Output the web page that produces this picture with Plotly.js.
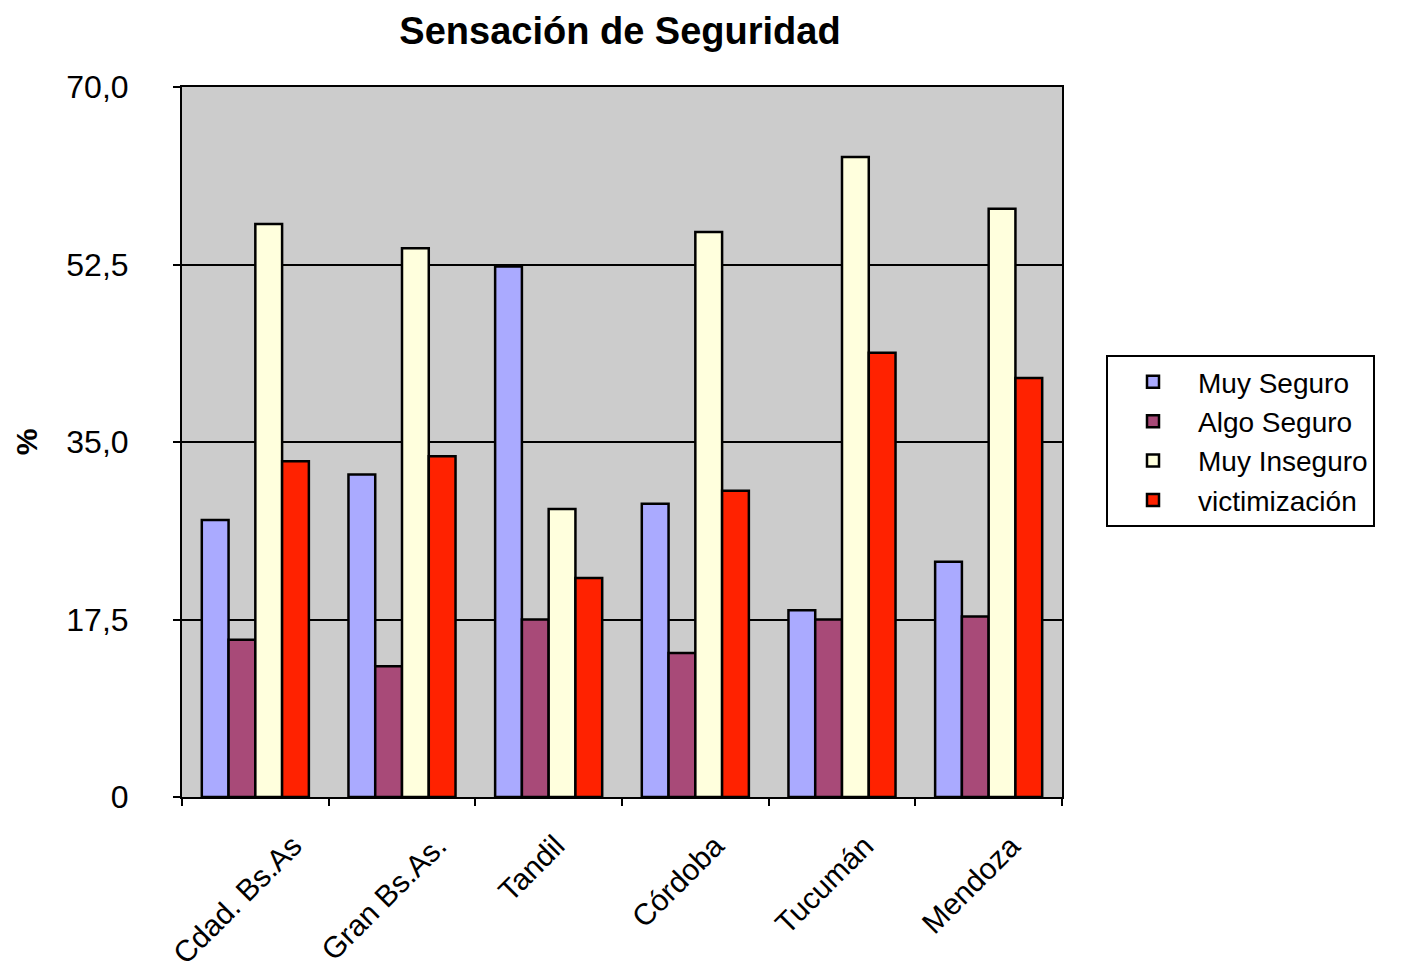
<!DOCTYPE html>
<html>
<head>
<meta charset="utf-8">
<script src="https://cdn.plot.ly/plotly-3.0.1.min.js"></script>
<style>html,body{margin:0;padding:0;background:#fff;}#chart{width:1423px;height:975px;}</style>
</head>
<body>
<div id="chart"></div>
<script>
const categories = ["Cdad. Bs.As", "Gran Bs.As.", "Tandil", "Córdoba", "Tucumán", "Mendoza"];
const muySeguro = [27.3, 31.8, 52.3, 28.9, 18.4, 23.2];
const algoSeguro = [15.5, 12.9, 17.5, 14.2, 17.5, 17.8];
const muyInseguro = [56.5, 54.1, 28.4, 55.7, 63.1, 58.0];
const victimizacion = [33.1, 33.6, 21.6, 30.2, 43.8, 41.3];
const seriesNames = ["Muy Seguro", "Algo Seguro", "Muy Inseguro", "victimización"];
const tickVals = [0, 17.5, 35, 52.5, 70];
const tickText = ["0", "17,5", "35,0", "52,5", "70,0"];

const FONT = "Liberation Sans, Arial, sans-serif";
const colors = ["#AAAAFF", "#A84A78", "#FFFFDD", "#FF2200"];
const seriesData = [muySeguro, algoSeguro, muyInseguro, victimizacion];

const traces = seriesData.map((vals, i) => ({
  type: "bar",
  name: seriesNames[i],
  x: categories,
  y: vals,
  marker: {color: colors[i], line: {color: "#000", width: 2.5}},
  hoverinfo: "x+y+name"
}));

// category labels placed like the original (rotated box centred under each category)
const catLabels = categories.map(c => ({
  text: c,
  xref: "x", x: c,
  yref: "paper", y: -43 / 710,
  xanchor: "center", yanchor: "top",
  xshift: -18, yshift: 14,
  textangle: -45,
  showarrow: false,
  font: {size: 30, family: FONT, color: "#000"}
}));

const layout = {
  width: 1423,
  height: 975,
  paper_bgcolor: "#fff",
  plot_bgcolor: "#CCCCCC",
  margin: {l: 182, r: 361, t: 87, b: 178, autoexpand: false},
  font: {family: FONT, color: "#000"},
  title: {
    text: "<b>Sensación de Seguridad</b>",
    font: {size: 38, family: FONT},
    x: 620 / 1423, xanchor: "center",
    y: 1 - 31 / 975, yanchor: "middle"
  },
  barmode: "group",
  bargap: 0.27,
  bargroupgap: 0,
  showlegend: true,
  legend: {
    x: 1.05, xanchor: "left",
    y: 0.6225, yanchor: "top",
    bgcolor: "#fff",
    bordercolor: "#000",
    borderwidth: 2,
    font: {size: 28, family: FONT},
    itemwidth: 80,
    traceorder: "normal"
  },
  annotations: catLabels,
  xaxis: {
    type: "category",
    range: [-0.5, categories.length - 0.5],
    autorange: false,
    tickson: "boundaries",
    ticks: "outside",
    ticklen: 7,
    tickwidth: 2,
    tickcolor: "#000",
    showticklabels: false,
    showline: true,
    linecolor: "#000",
    linewidth: 2,
    mirror: true,
    showgrid: false,
    zeroline: false
  },
  yaxis: {
    range: [0, 70],
    autorange: false,
    tickvals: tickVals,
    ticktext: tickText,
    ticks: "outside",
    ticklen: 7,
    tickwidth: 2,
    tickcolor: "#000",
    ticklabelstandoff: 38,
    tickfont: {size: 32, family: FONT},
    showline: true,
    linecolor: "#000",
    linewidth: 2,
    mirror: true,
    showgrid: true,
    gridcolor: "#000",
    gridwidth: 2,
    zeroline: false,
    title: {text: "<b>%</b>", font: {size: 30}, standoff: 20}
  }
};

Plotly.newPlot("chart", traces, layout, {displayModeBar: false, staticPlot: true});
</script>
</body>
</html>
